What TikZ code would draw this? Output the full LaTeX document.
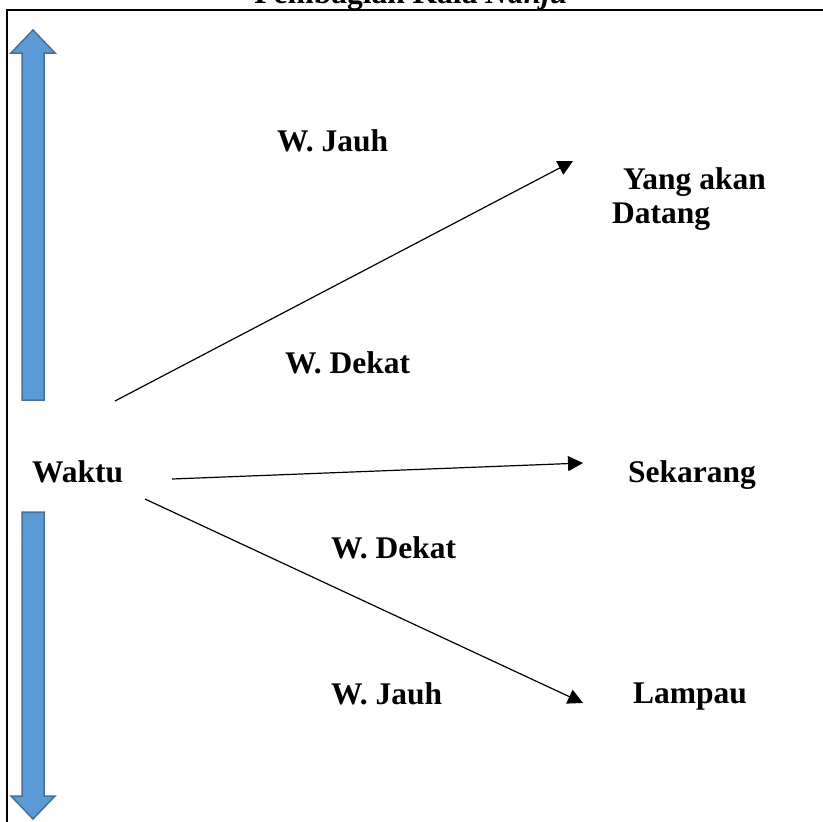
\documentclass[tikz,border=0pt]{standalone}
\usepackage{fontspec}
\setmainfont{Liberation Serif}
\usetikzlibrary{arrows.meta}
\definecolor{arrowfill}{HTML}{5B9BD5}
\definecolor{arrowline}{HTML}{41719C}
\tikzset{
  lbl/.style={anchor=base west, inner sep=0pt, font=\fontsize{31.5}{37}\selectfont\bfseries},
  flow/.style={line width=1.2pt, -{Triangle[length=15pt,width=15pt]}},
  blockarrow/.style={fill=arrowfill, draw=arrowline, line width=1.5pt, line join=miter},
  frame/.style={line width=2.6pt}
}
\begin{document}
\begin{tikzpicture}[x=1pt,y=-1pt]
  \useasboundingbox (0,0) rectangle (822,822);
  % heading, partly above the frame
  \node[anchor=base, inner sep=0pt, font=\fontsize{31.5}{37}\selectfont\bfseries] (title) at (411,3) {Pembagian Kala \textit{Nahju}};
  % frame edges
  \draw[frame] (7,830) -- (7,10) -- (830,10);
  % vertical block arrows
  \draw[blockarrow] (33,30) -- (55,53) -- (44,53) -- (44,400) -- (22,400) -- (22,53) -- (11,53) -- cycle;
  \draw[blockarrow] (22,512) -- (44,512) -- (44,796) -- (55,796) -- (33,819) -- (11,796) -- (22,796) -- cycle;
  % labels
  \node[lbl] (waktu) at (32,482) {Waktu};
  \node[lbl] (farA) at (277,151) {W. Jauh};
  \node[lbl] (nearA) at (285,373) {W. Dekat};
  \node[lbl] (nearB) at (331,558) {W. Dekat};
  \node[lbl] (farB) at (331,704) {W. Jauh};
  \node[lbl] (future1) at (623,189) {Yang akan};
  \node[lbl] (future2) at (612,223) {Datang};
  \node[lbl] (now) at (628,482) {Sekarang};
  \node[lbl] (past) at (633,703) {Lampau};
  % connector ends
  \coordinate (s1) at (115,401);
  \coordinate (e1) at (573,161);
  \coordinate (s2) at (172,479);
  \coordinate (e2) at (583,463);
  \coordinate (s3) at (145,499);
  \coordinate (e3) at (583,703);
  \draw[flow] (s1) -- (e1);
  \draw[flow] (s2) -- (e2);
  \draw[flow] (s3) -- (e3);
\end{tikzpicture}
\end{document}
